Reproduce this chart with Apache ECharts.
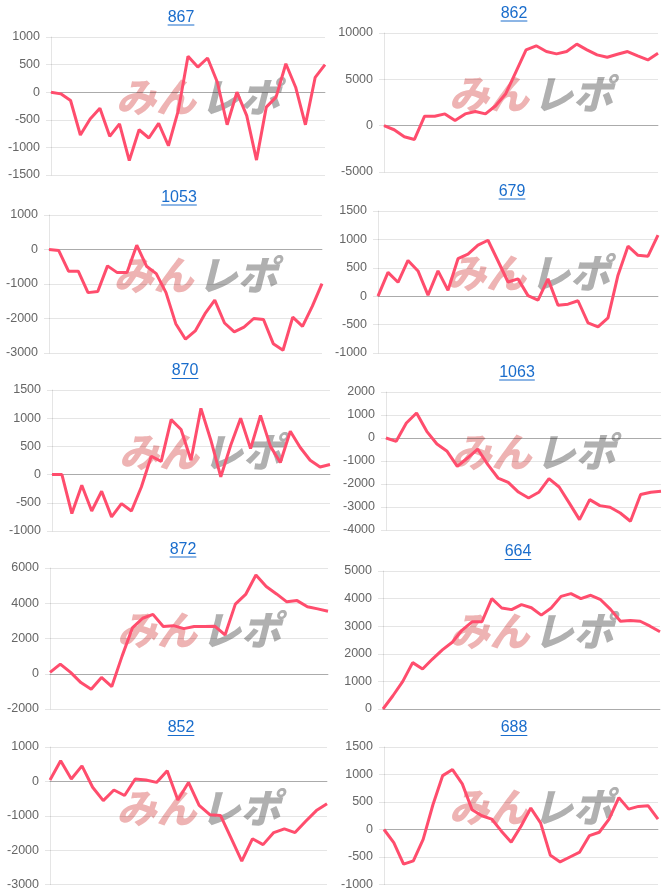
<!DOCTYPE html>
<html><head><meta charset="utf-8">
<script src="https://cdn.jsdelivr.net/npm/echarts@6/dist/echarts.min.js"></script>
<style>html,body{margin:0;padding:0;background:#fff}#c{width:666px;height:891px}</style>
</head><body><div id="c"></div>
<script>
// ---- data ----
const titles = ['867','862','1053','679','870','1063','872','664','852','688'];
const v867  = [0,-30,-150,-775,-485,-290,-800,-575,-1240,-680,-830,-565,-970,-340,650,455,620,180,-590,0,-425,-1230,-270,-90,515,90,-590,270,500];
const v862  = [0,-440,-1200,-1490,1020,1020,1270,545,1270,1530,1270,2150,3450,5800,8180,8620,8000,7750,8000,8800,8180,7640,7380,7700,8000,7530,7090,7820];
const v1053 = [0,-30,-630,-630,-1250,-1220,-475,-670,-670,125,-485,-700,-1250,-2150,-2600,-2360,-1860,-1470,-2130,-2390,-2250,-2000,-2030,-2730,-2920,-1960,-2230,-1650,-990];
const v679  = [0,420,245,630,445,20,445,105,660,740,900,985,620,250,305,10,-70,305,-160,-140,-80,-470,-540,-380,370,880,720,705,1075];
const v870  = [0,0,-690,-190,-645,-295,-750,-515,-645,-220,325,235,975,800,255,1175,610,-40,520,1000,460,1050,500,215,770,480,255,135,180];
const v1063 = [0,-145,650,1085,290,-260,-580,-1230,-870,-480,-1160,-1740,-1930,-2350,-2610,-2360,-1770,-2130,-2830,-3550,-2680,-2940,-3010,-3260,-3620,-2460,-2360,-2320];
const v872  = [75,550,75,-500,-880,-210,-725,1000,2600,3150,3370,2680,2730,2560,2680,2680,2700,2200,3950,4500,5600,4950,4530,4080,4150,3800,3680,3550];
const v664  = [0,480,1000,1680,1450,1810,2140,2420,2860,3160,3160,4000,3660,3600,3780,3670,3400,3660,4080,4180,4000,4120,3960,3610,3180,3210,3180,3000,2800];
const v852  = [40,600,70,450,-170,-560,-250,-410,70,40,-30,310,-540,-30,-700,-970,-990,-1650,-2320,-1670,-1840,-1490,-1380,-1490,-1160,-850,-650];
const v688  = [0,-240,-630,-570,-180,450,980,1090,830,360,250,190,-30,-230,60,390,120,-470,-590,-500,-410,-110,-50,190,580,370,420,430,190];
const seriesData = [v867,v862,v1053,v679,v870,v1063,v872,v664,v852,v688];
const yMin  = [-1500,-5000,-3000,-1000,-1000,-4000,-2000,0,-3000,-1000];
const yMax  = [1000,10000,1000,1500,1500,2000,6000,5000,1000,1500];
const yStep = [500,5000,1000,500,500,1000,2000,1000,1000,500];

// ---- layout ----
const boxes = [[51,37,325,175],[384,33,658,172],[49,215,322,353],[378,211,658,353],[52,390,330,531],
               [386,392,661,530],[50,568,328,709],[383,571,660,709],[50,747,327,886],[384,747,658,885]];
const titlePos = [[181,17.5],[514,13.5],[179,197.5],[512,191.5],[185,371],[517,372.5],[183,549.5],[518,552],[181,728],[514,728]];

const LINK = '#1a6dcc', RED = '#ff4d6d', GRID = 'rgba(0,0,0,0.1)', ZERO = 'rgba(0,0,0,0.25)';
const grids = [], xAxes = [], yAxes = [], series = [], graphic = [];
seriesData.forEach((d, i) => {
  const b = boxes[i];
  grids.push({left: b[0], top: b[1], width: b[2]-b[0], height: b[3]-b[1]});
  xAxes.push({gridIndex: i, type: 'category', boundaryGap: false,
    data: d.map((_, k) => String(k + 1)),
    axisLabel: {show: false}, axisTick: {show: false}, splitLine: {show: false},
    axisLine: {show: true, onZero: true, lineStyle: {color: ZERO, width: 1}}});
  yAxes.push({gridIndex: i, type: 'value', min: yMin[i], max: yMax[i], interval: yStep[i],
    axisLine: {show: true, lineStyle: {color: GRID}},
    axisTick: {show: true, length: 5, lineStyle: {color: GRID}},
    splitLine: {show: true, lineStyle: {color: GRID, width: 1}},
    axisLabel: {color: '#666', fontSize: 12.5, fontFamily: '"Liberation Sans", Arial, sans-serif', margin: 11,
                formatter: v => String(v)}});
  series.push({type: 'line', xAxisIndex: i, yAxisIndex: i, data: d, symbol: 'none',
    lineStyle: {color: RED, width: 3}, itemStyle: {color: RED}, z: 5});
  const [tx, ty] = titlePos[i];
  const w = titles[i].length * 8.9;
  graphic.push({type: 'text', x: tx, y: ty, z: 10, silent: true,
    style: {text: titles[i], fill: LINK, font: '16px "Liberation Sans", Arial, sans-serif',
            textAlign: 'center', textVerticalAlign: 'middle'}});
  graphic.push({type: 'line', z: 10, silent: true,
    shape: {x1: tx - w/2, y1: ty + 7.5, x2: tx + w/2, y2: ty + 7.5},
    style: {stroke: LINK, lineWidth: 1}});
  const cx = (b[0]+b[2])/2 + 10, cy = (b[1]+b[3])/2 - 9;
  graphic.push({type: 'text', x: cx - 2, y: cy, z: 0, silent: true,
    style: {text: 'みん', fill: '#eeb3b3', font: 'italic 900 40px "Noto Sans CJK JP", sans-serif',
            textAlign: 'right', textVerticalAlign: 'middle'}});
  graphic.push({type: 'text', x: cx + 2, y: cy, z: 0, silent: true,
    style: {text: 'レポ', fill: '#b0b0b0', font: 'italic 900 40px "Noto Sans CJK JP", sans-serif',
            textAlign: 'left', textVerticalAlign: 'middle'}});
});

const chart = echarts.init(document.getElementById('c'), null, {renderer: 'canvas'});
chart.setOption({
  animation: false,
  backgroundColor: '#fff',
  grid: grids, xAxis: xAxes, yAxis: yAxes, series: series, graphic: graphic
});
</script></body></html>
